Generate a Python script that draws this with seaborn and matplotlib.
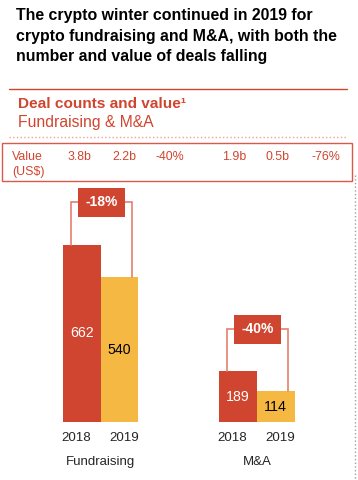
import numpy as np
import pandas as pd
import matplotlib
matplotlib.use('Agg')
import matplotlib.pyplot as plt
import seaborn as sns
from matplotlib.patches import Rectangle
from matplotlib.lines import Line2D

# chart data
groups = ['Fundraising', 'Fundraising', 'M&A', 'M&A']
years = ['2018', '2019', '2018', '2019']
counts = [662, 540, 189, 114]
group_names = ['Fundraising', 'M&A']
value_labels = ['3.8b', '2.2b', '-40%', '1.9b', '0.5b', '-76%']
count_change = ['-18%', '-40%']
title_lines = ['The crypto winter continued in 2019 for',
               'crypto fundraising and M&A, with both the',
               'number and value of deals falling']

RED = '#D0452F'
YELLOW = '#F5B843'
LINE = '#E5806E'

W, H = 358, 480


def fx(px):
    return px / W


def fy(py):
    return 1 - py / H


sns.set_theme(style='white')
plt.rcParams['font.family'] = ['Liberation Sans', 'DejaVu Sans']

fig = plt.figure(figsize=(W / 100, H / 100), dpi=100)

# title + subtitle
for i, line in enumerate(title_lines):
    fig.text(fx(16), fy(15.5 + i * 20.5), line, fontsize=11.4, fontweight='bold',
             color='black', va='center', ha='left')
fig.add_artist(Line2D([fx(9), fx(347)], [fy(89), fy(89)], color=RED, lw=1))
fig.text(fx(18), fy(104.5), 'Deal counts and value¹', fontsize=11.1,
         fontweight='bold', color=RED, va='center')
fig.text(fx(18), fy(122), 'Fundraising & M&A', fontsize=11.3, color=RED, va='center')
fig.add_artist(Line2D([fx(9), fx(347)], [fy(137), fy(137)], color='#EBA597',
                      lw=1, ls=':'))

# value row
fig.add_artist(Rectangle((fx(2), fy(181)), fx(352) - fx(2), (181 - 143) / H,
                         fill=False, edgecolor='#D9594A', lw=1))
fig.text(fx(12), fy(156.5), 'Value', fontsize=8.9, color=RED, va='center')
fig.text(fx(12), fy(172.5), '(US$)', fontsize=8.9, color=RED, va='center')
for xp, lab in zip([79, 124, 170, 234, 277, 326], value_labels):
    fig.text(fx(xp), fy(156.5), lab, fontsize=8.9, color=RED, va='center', ha='center')

fig.add_artist(Line2D([fx(355), fx(355)], [fy(175), fy(480)], color='#A0A0A0',
                      lw=1, ls=':'))

# bars
ax = fig.add_axes([fx(22.25), fy(422), fx(335.25) - fx(22.25), (422 - 185) / H])
df = pd.DataFrame({'group': groups, 'year': years, 'count': counts})
sns.barplot(data=df, x='group', y='count', hue='year', palette=[RED, YELLOW],
            width=0.48, gap=0, saturation=1, linewidth=0, legend=False, ax=ax)
ax.set_xlim(-0.5, 1.5)
ax.set_ylim(0, 884)
sns.despine(ax=ax, left=True, bottom=True)
ax.set_yticks([])
ax.set_xlabel('')
ax.set_ylabel('')

bars = sorted([p for p in ax.patches if p.get_height() > 0], key=lambda p: p.get_x())
centers = [b.get_x() + b.get_width() / 2 for b in bars]
for k, (b, c) in enumerate(zip(bars, centers)):
    h = b.get_height()
    col = 'white' if k % 2 == 0 else 'black'
    ax.text(c, h / 2, f'{int(h)}', ha='center', va='center', fontsize=10.2, color=col)

# year labels sit a little outside the bar centres
tick_pos = [c + (-0.035 if k % 2 == 0 else 0.03) for k, c in enumerate(centers)]
ax.set_xticks(tick_pos, labels=years)
ax.tick_params(axis='x', length=0, pad=7, labelsize=9.6)

for i, name in enumerate(group_names):
    ax.annotate(name, xy=(i, 0), xycoords=('data', 'axes fraction'),
                xytext=(0, -28.8), textcoords='offset points',
                ha='center', va='center', fontsize=9.5)

# change brackets
for i in range(2):
    b0, b1 = bars[2 * i], bars[2 * i + 1]
    h0, h1 = b0.get_height(), b1.get_height()
    top = max(h0, h1) + 157
    xl = centers[2 * i] - 0.07
    xr = centers[2 * i + 1] + 0.08
    ax.plot([xl, xl, xr, xr], [h0, top, top, h1], color=LINE, lw=1.2,
            solid_joinstyle='miter')
    ax.add_patch(Rectangle((i + 0.005 - 0.15, top - 54), 0.30, 108,
                           facecolor=RED, edgecolor='none', zorder=3))
    ax.text(i + 0.005, top, count_change[i], ha='center', va='center',
            fontsize=10, fontweight='bold', color='white', zorder=4)

fig.savefig('out.png', dpi=100)
